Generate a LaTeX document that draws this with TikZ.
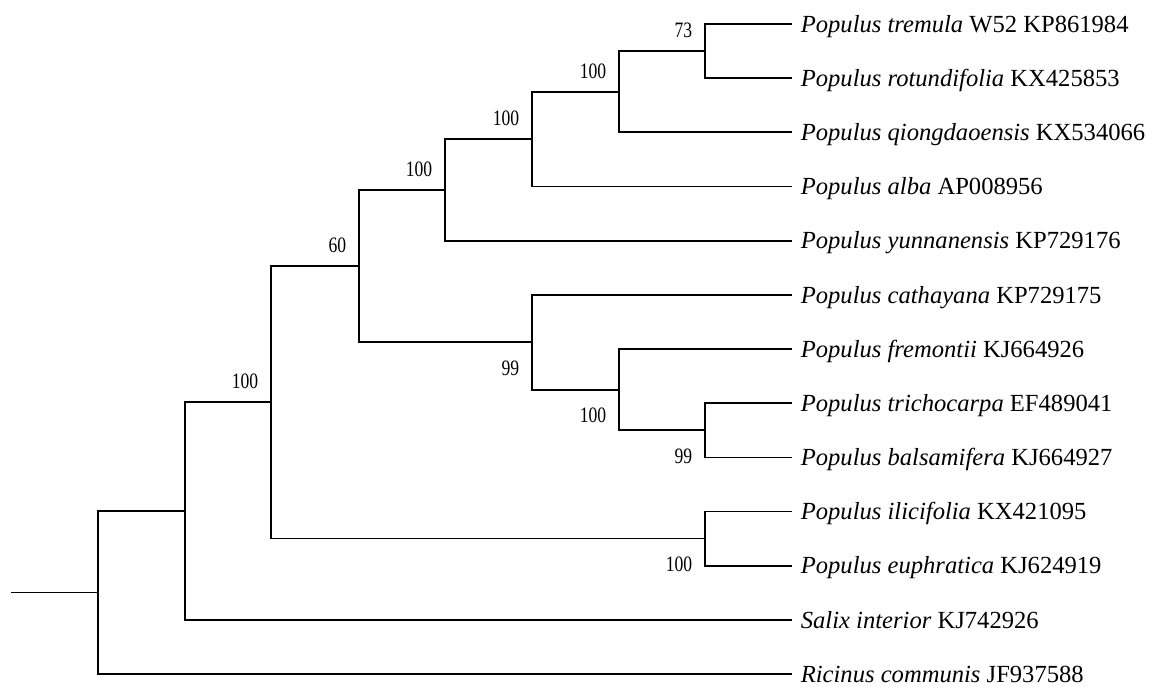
\documentclass[tikz,border=0pt]{standalone}
\usepackage{fontspec}
\setmainfont{Liberation Serif}
\newfontfamily\bsfont[FakeStretch=0.8]{Liberation Serif}

\begin{document}
\begin{tikzpicture}[x=1pt, y=-1pt, line width=1.7pt,
    taxon/.style={anchor=base west, inner sep=0pt, font=\fontsize{24.6}{30}\selectfont},
    boot/.style={inner sep=0pt, font=\bsfont\fontsize{22}{26}\selectfont}]
    \useasboundingbox (0,0) rectangle (1152,687);

    % 叶节点与物种名
    \foreach \i/\name in {0/{\textit{Populus tremula} W52 KP861984},
                          1/{\textit{Populus rotundifolia} KX425853},
                          2/{\textit{Populus qiongdaoensis} KX534066},
                          3/{\textit{Populus alba} AP008956},
                          4/{\textit{Populus yunnanensis} KP729176},
                          5/{\textit{Populus cathayana} KP729175},
                          6/{\textit{Populus fremontii} KJ664926},
                          7/{\textit{Populus trichocarpa} EF489041},
                          8/{\textit{Populus balsamifera} KJ664927},
                          9/{\textit{Populus ilicifolia} KX421095},
                          10/{\textit{Populus euphratica} KJ624919},
                          11/{\textit{Salix interior} KJ742926},
                          12/{\textit{Ricinus communis} JF937588}}
    {
        \coordinate (l\i) at (792, {24+54.17*\i});
        \node[taxon] (t\i) at (800, {32.2+54.17*\i}) {\name};
    }

    % 内部节点
    \coordinate (s) at (11, 592.6);
    \coordinate (r) at (98, 592.6);
    \coordinate (a1) at (185, 511.1);
    \coordinate (a2) at (271, 402.3);
    \coordinate (a3) at (359, 266.1);
    \coordinate (a4) at (445, 189.9);
    \coordinate (a5) at (532, 139.1);
    \coordinate (a6) at (619, 91.7);
    \coordinate (a7) at (705, 51.1);
    \coordinate (b1) at (532, 342.3);
    \coordinate (b2) at (619, 389.7);
    \coordinate (b3) at (705, 430.3);
    \coordinate (c1) at (705, 538.6);

    % 分支
    \draw (s) -- (r);
    \foreach \p/\c in {r/a1, r/l12, a1/a2, a1/l11, a2/a3, a2/c1,
                       a3/a4, a3/b1, a4/a5, a4/l4, a5/a6, a5/l3,
                       a6/a7, a6/l2, a7/l0, a7/l1, b1/l5, b1/b2,
                       b2/l6, b2/b3, b3/l7, b3/l8, c1/l9, c1/l10}
        \draw (\p) |- (\c);

    % 自展值
    \foreach \n/\v in {a7/73, a6/100, a5/100, a4/100, a3/60, a2/100}
        \node[boot, anchor=south east] (bs\n) at ([shift={(-12,-12.5)}]\n) {\v};
    \foreach \n/\v in {b1/99, b2/100, b3/99, c1/100}
        \node[boot, anchor=north east] (bs\n) at ([shift={(-12,17.5)}]\n) {\v};
\end{tikzpicture}
\end{document}
